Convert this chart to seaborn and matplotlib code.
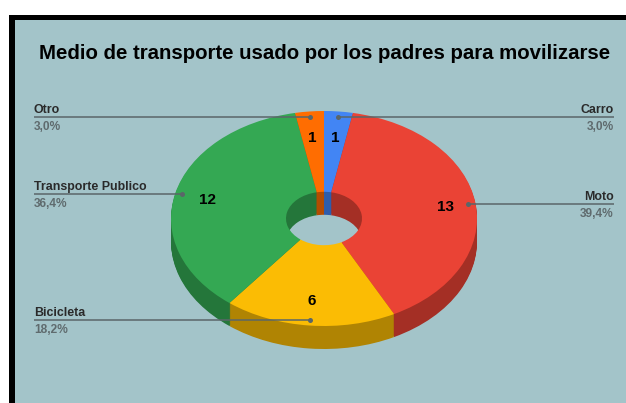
import matplotlib
matplotlib.use("Agg")
import matplotlib.pyplot as plt
from matplotlib.patches import Rectangle
import seaborn as sns

# ---- data ----
categories = ["Carro", "Moto", "Bicicleta", "Transporte Publico", "Otro"]
counts = [1, 13, 6, 12, 1]
percent_labels = ["3,0%", "39,4%", "18,2%", "36,4%", "3,0%"]
hex_colors = ["#4285F4", "#EA4335", "#FBBC04", "#34A853", "#FF6D01"]
title = "Medio de transporte usado por los padres para movilizarse"

# ---- layout in reference pixels ----
W, H = 626, 403
cx, cy, rx, ry = 324, 218.5, 153, 107.5
hole_ratio = 38 / 153
depth = 23
bg = "#A3C4C9"
line_col = "#5A6669"
pct_col = "#5F6B6E"

sns.set_theme(style="white", rc={"font.family": ["Liberation Sans", "DejaVu Sans"]})
palette = sns.color_palette(hex_colors)
dark = [tuple(c * 0.70 for c in col) for col in palette]

fig = plt.figure(figsize=(W / 100, H / 100), dpi=100, facecolor="white")

# background panel and heavy black frame
fig.patches.append(Rectangle((9 / W, 0), 1, 1 - 15 / H, transform=fig.transFigure,
                             facecolor="black", edgecolor="none", zorder=-3, figure=fig))
fig.patches.append(Rectangle((15 / W, 0), 1, 1 - 20 / H, transform=fig.transFigure,
                             facecolor=bg, edgecolor="none", zorder=-2, figure=fig))

# pie axes: one unit is rx px horizontally and ry px vertically
ax = fig.add_axes([0, 0, 1, 1])
ax.patch.set_alpha(0)
for off in range(depth, 0, -1):
    ax.pie(counts, colors=dark, startangle=90, counterclock=False,
           center=(0, -off / ry), radius=1,
           wedgeprops=dict(width=1 - hole_ratio, linewidth=0))
ax.pie(counts, colors=palette, startangle=90, counterclock=False,
       center=(0, 0), radius=1, wedgeprops=dict(width=1 - hole_ratio, linewidth=0))
ax.set_aspect("auto")
ax.set_xlim(-cx / rx, (W - cx) / rx)
ax.set_ylim(-(H - cy) / ry, cy / ry)
ax.axis("off")

# overlay in pixel coordinates for the annotations
ov = fig.add_axes([0, 0, 1, 1], facecolor="none")
ov.set_xlim(0, W)
ov.set_ylim(H, 0)
ov.axis("off")

# (line y, dot x, side)
leaders = [(117, 338, "r"), (204, 468, "r"), (320, 310, "l"), (194, 182, "l"), (117, 310, "l")]
value_pos = [(335, 138), (445, 207), (312, 301), (207, 200), (312, 138)]
name_fs, pct_fs = 8.9, 8.6

for name, pct, n, (y, dot, side), (vx, vy) in zip(categories, percent_labels, counts, leaders, value_pos):
    edge = 614 if side == "r" else 34
    ha = "right" if side == "r" else "left"
    ov.plot([edge, dot], [y, y], color=line_col, lw=1.1, solid_capstyle="butt")
    ov.plot([dot], [y], "o", color=line_col, ms=3.6, mew=0)
    ov.text(edge, y - 4, name, ha=ha, va="baseline", fontsize=name_fs,
            fontweight="bold", color="#2A2A2A")
    ov.text(edge, y + 13, pct, ha=ha, va="baseline", fontsize=pct_fs,
            fontweight="bold", color=pct_col)
    ov.text(vx, vy, str(n), ha="center", va="center", fontsize=11,
            fontweight="bold", color="black")

ov.text(324.5, 59, title, ha="center", va="baseline", fontsize=14.65,
        fontweight="bold", color="black")

fig.savefig("out.png", dpi=100, facecolor="white")
